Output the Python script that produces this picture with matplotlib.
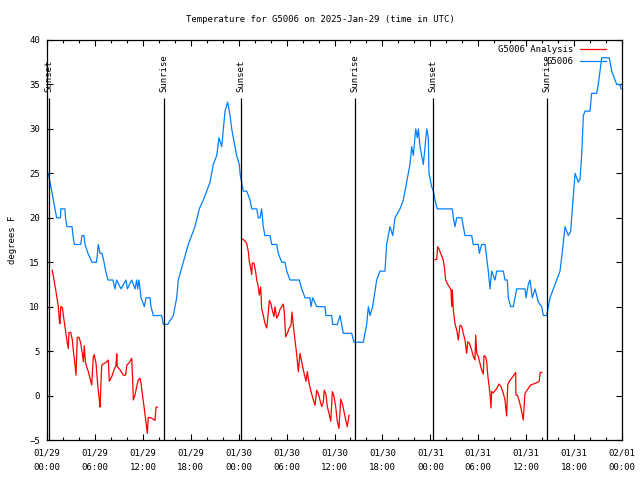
import numpy as np
import pandas as pd
import matplotlib
matplotlib.use("Agg")
import matplotlib.pyplot as plt
import matplotlib.dates as mdates

plt.rcParams.update({'font.family': 'DejaVu Sans Mono', 'font.size': 6.5})

start = pd.Timestamp('2025-01-29 00:00')

# station obs (hours since start, deg F)
obs_hours = [0.0, 0.16, 0.38, 0.59, 0.79, 1.0, 1.21, 1.7, 1.72, 2.25, 2.32, 2.5, 3.13, 3.26, 3.42,
             4.22, 4.38, 4.63, 4.76, 5.13, 5.63, 6.2, 6.32, 6.42, 6.64, 6.89, 7.14, 7.35, 7.64,
             8.26, 8.51, 8.72, 9.27, 9.89, 10.06, 10.6, 11.02, 11.23, 11.35, 11.52, 11.65, 11.77,
             12.19, 12.4, 12.9, 13.02, 13.31, 14.36, 14.56, 15.11, 15.82, 16.24, 16.44, 17.07,
             17.69, 18.53, 19.07, 19.57, 20.0, 20.41, 20.82, 21.25, 21.54, 21.88, 22.08, 22.29,
             22.63, 22.92, 23.13, 23.33, 23.75, 24.08, 24.17, 24.38, 24.58, 25.01, 25.42, 25.63,
             26.26, 26.46, 26.67, 26.88, 26.98, 27.08, 27.29, 27.92, 28.14, 28.76, 28.96, 29.39,
             29.8, 30.02, 30.43, 31.59, 31.89, 32.31, 32.93, 33.06, 33.27, 33.77, 34.81, 34.93,
             35.65, 35.77, 36.35, 36.69, 36.9, 37.1, 38.15, 38.44, 39.61, 40.03, 40.24, 40.45,
             40.78, 41.28, 41.7, 42.32, 42.53, 42.95, 43.29, 43.58, 44.2, 44.62, 45.04, 45.45,
             45.67, 45.87, 46.17, 46.37, 46.5, 46.71, 46.92, 47.12, 47.33, 47.55, 47.75, 47.83,
             48.17, 48.37, 48.58, 48.87, 50.75, 50.88, 51.09, 51.3, 51.93, 52.13, 52.34, 53.18,
             53.38, 54.01, 54.13, 54.43, 54.85, 55.06, 55.26, 55.47, 55.68, 56.1, 56.31, 57.14,
             57.35, 57.64, 57.76, 58.06, 58.39, 58.81, 59.85, 59.98, 60.27, 60.48, 60.77, 61.11,
             61.52, 61.95, 62.15, 62.57, 62.7, 62.99, 63.4, 63.82, 64.24, 64.57, 64.86, 65.07,
             65.28, 65.58, 65.78, 66.12, 66.53, 66.74, 66.95, 67.16, 67.37, 67.99, 68.2, 68.83,
             69.03, 69.46, 70.41, 70.71, 70.91, 71.34, 71.75, 71.87]
obs_temp = [25, 25, 24, 23, 22, 21, 20, 20, 21, 21, 20, 19, 19, 18, 17,
            17, 18, 18, 17, 16, 15, 15, 16, 17, 16, 16, 15, 14, 13,
            13, 12, 13, 12, 13, 12, 13, 12, 13, 12, 13, 12, 11,
            10, 11, 11, 10, 9, 9, 8, 8, 9, 11, 13, 15,
            17, 19, 21, 22, 23, 24, 26, 27, 29, 28, 30, 32,
            33, 31.5, 30, 29, 27, 26, 25, 24, 23, 23, 22, 21,
            21, 20, 20, 21, 20, 19, 18, 18, 17, 17, 16, 15,
            15, 14, 13, 13, 12, 11, 11, 10, 11, 10, 10, 9,
            9, 8, 8, 9, 8, 7, 7, 6, 6, 8, 10, 9,
            10, 13, 14, 14, 17, 19, 18, 20, 21, 22, 24, 26,
            28, 27, 30, 29, 30, 28, 27, 26, 28, 30, 29, 25,
            23.5, 23, 22, 21, 21, 20, 19, 20, 20, 19, 18, 18,
            17, 17, 16, 17, 17, 15.5, 14, 12, 14, 13, 14, 14,
            13, 13, 11, 10, 10, 12, 12, 11, 12.5, 13, 11, 12,
            10.5, 10, 9, 9, 9.6, 11, 12, 13, 14, 16.5, 19, 18.5,
            18, 18.5, 21, 25, 24, 24.3, 27, 31.5, 32, 32, 34, 34,
            35, 38, 38, 36.5, 36, 35, 35, 34.5]

# analysis, three overnight pieces
ana1_hours = [0.66, 0.88, 1.09, 1.29, 1.42, 1.54, 1.63, 1.72, 1.92, 2.13, 2.34, 2.54, 2.67, 2.75,
              2.97, 3.17, 3.29, 3.51, 3.63, 3.79, 4.01, 4.22, 4.42, 4.55, 4.67, 4.8, 4.97, 5.17,
              5.38, 5.6, 5.8, 5.92, 6.14, 6.35, 6.55, 6.64, 6.85, 7.05, 7.48, 7.68, 7.8, 8.1,
              8.39, 8.64, 8.73, 8.8, 9.14, 9.55, 9.85, 9.98, 10.39, 10.61, 10.73, 10.81, 11.02,
              11.23, 11.43, 11.65, 11.77, 11.93, 12.15, 12.36, 12.56, 12.68, 13.11, 13.52, 13.65,
              13.81]
ana1_temp = [14.1, 13, 11.9, 10.75, 10, 8.5, 8.1, 10, 9.9, 8.5, 7.2, 5.9, 5.3, 7.1,
             7.1, 6.25, 5.1, 3.4, 2.3, 6.55, 6.55, 5.9, 4.75, 3.8, 5.6, 3.8, 3.25, 2.7,
             1.95, 1.2, 4.4, 4.6, 3.6, 1.2, -0.5, -1.3, 3.4, 3.55, 3.8, 4.0, 1.6, 2.1,
             2.9, 3.4, 4.7, 3.25, 2.9, 2.3, 2.3, 3.4, 3.8, 4.2, 1.75, -0.5, 0.06,
             1.0, 1.75, 1.95, 1.4, 0.25, -1.25, -2.75, -4.25, -2.45, -2.55, -2.8, -1.3,
             -1.3]
ana2_hours = [24.51, 24.79, 25.01, 25.21, 25.33, 25.51, 25.63, 25.71, 25.92, 26.13, 26.26, 26.46,
              26.58, 26.76, 26.88, 27.08, 27.3, 27.51, 27.64, 27.84, 28.01, 28.21, 28.42, 28.55,
              28.76, 28.96, 29.18, 29.39, 29.59, 29.71, 29.89, 30.09, 30.34, 30.55, 30.68, 30.84,
              31.05, 31.27, 31.47, 31.68, 31.89, 32.09, 32.43, 32.6, 32.81, 33.06, 33.35, 33.56,
              33.77, 33.97, 34.18, 34.4, 34.6, 34.72, 34.94, 35.1, 35.31, 35.53, 35.73, 35.94,
              36.15, 36.35, 36.56, 36.78, 36.98, 37.19, 37.4, 37.6, 37.82]
ana2_temp = [17.6, 17.4, 17.1, 16.2, 15.1, 14.3, 13.6, 14.9, 14.9, 13.9, 13, 12.25,
             11.3, 12.2, 9.8, 9.05, 8.1, 7.6, 8.7, 10.7, 10.4, 9.6, 8.9, 10.0,
             8.7, 9.05, 9.7, 10.0, 10.3, 9.4, 6.6, 7.0, 7.6, 7.9, 9.4, 7.9,
             6.25, 4.6, 2.7, 4.75, 3.8, 2.9, 1.6, 2.7, 1.4, 0.45, -0.5, -1.1,
             0.6, 0.25, -0.5, -1.25, -0.7, 0.6, 0.06, -1.25, -2.0, -2.9, 0.45, -0.1,
             -1.25, -2.9, -3.7, -0.4, -0.9, -1.8, -2.75, -3.5, -2.2]
ana3_hours = [48.58, 48.8, 48.92, 49.12, 49.34, 49.62, 49.75, 49.92, 50.12, 50.37, 50.59, 50.68,
              50.75, 50.88, 51.09, 51.3, 51.5, 51.71, 51.93, 52.13, 52.34, 52.55, 52.68, 52.88,
              53.18, 53.38, 53.59, 53.68, 53.81, 54.01, 54.22, 54.43, 54.63, 54.72, 54.93, 55.06,
              55.13, 55.26, 55.47, 55.6, 55.68, 55.89, 56.31, 56.6, 56.85, 57.14, 57.35, 57.56,
              57.69, 57.89, 58.18, 58.47, 58.68, 58.72, 58.89, 59.1, 59.35, 59.64, 59.85, 60.07,
              60.27, 60.57, 60.9, 61.33, 61.63, 61.75, 61.96]
ana3_temp = [15.3, 15.3, 16.75, 16.4, 15.9, 15.25, 14.5, 13.0, 12.6, 12.25, 11.9, 10.0,
             11.9, 9.6, 8.1, 7.4, 6.25, 7.9, 7.8, 7.0, 6.25, 4.75, 6.05, 5.9,
             5.1, 4.4, 4.0, 6.8, 4.75, 4.4, 3.6, 2.9, 2.4, 4.5, 4.35, 3.8,
             2.9, 1.75, 0.25, -1.4, 0.45, 0.3, 0.8, 1.3, 1.0, 0.25, -0.5, -2.3,
             1.2, 1.6, 1.95, 2.3, 2.6, 0.06, 0.06, -0.5, -1.4, -2.75, 0.25, 0.55,
             0.8, 1.2, 1.3, 1.45, 1.6, 2.6, 2.6]

sun_hours = [0.25, 14.65, 24.3, 38.57, 48.33, 62.6]
sun_labels = ['Sunset', 'Sunrise', 'Sunset', 'Sunrise', 'Sunset', 'Sunrise']


def to_time(hours):
    return start + pd.to_timedelta(np.array(hours), unit='h')


fig = plt.figure(figsize=(6.4, 4.8), dpi=100)
ax = fig.add_axes([47 / 640, 40 / 480, 575 / 640, 400 / 480])

red = '#ff0000'
blue = '#0080ff'
lw = 0.9

ax.plot(to_time(ana1_hours), ana1_temp, color=red, lw=lw, label='G5006 Analysis')
ax.plot(to_time(ana2_hours), ana2_temp, color=red, lw=lw)
ax.plot(to_time(ana3_hours), ana3_temp, color=red, lw=lw)
ax.plot(to_time(obs_hours), obs_temp, color=blue, lw=lw, label='G5006')

for h, lab in zip(sun_hours, sun_labels):
    t = to_time([h])[0]
    ax.vlines(t, -5, 33.5, color='black', lw=0.9)
    ax.text(t, 34.2, lab, rotation=90, ha='center', va='bottom', fontsize=6.5)

ax.set_xlim(start, start + pd.Timedelta(hours=72))
ax.set_ylim(-5, 40)
ax.set_yticks(np.arange(-5, 41, 5))

ax.xaxis.set_major_locator(mdates.HourLocator(byhour=[0, 6, 12, 18]))
ax.xaxis.set_minor_locator(mdates.HourLocator(byhour=range(0, 24, 2)))
ax.xaxis.set_major_formatter(mdates.DateFormatter('%m/%d\n%H:%M'))
for lbl in ax.get_xticklabels():
    lbl.set_linespacing(1.75)

ax.tick_params(axis='both', which='both', direction='in', top=True, right=True, width=0.8)
ax.tick_params(axis='both', which='major', length=4, labelsize=6.5)
ax.tick_params(axis='x', which='minor', length=2)
ax.tick_params(axis='x', which='major', pad=6)
ax.tick_params(axis='y', which='major', pad=5)
for s in ax.spines.values():
    s.set_linewidth(0.9)

ax.set_ylabel('degrees F', fontsize=6.5, labelpad=9)
fig.text(0.5, 1 - 19 / 480, 'Temperature for G5006 on 2025-Jan-29 (time in UTC)',
         ha='center', va='center', fontsize=6.5)

ax.legend(loc='upper right', bbox_to_anchor=(0.982, 1.0), frameon=False,
          markerfirst=False, fontsize=6.5, handlelength=2.9, handletextpad=0.75,
          labelspacing=0.3, borderaxespad=0.2)

fig.savefig('out.png', dpi=100)
